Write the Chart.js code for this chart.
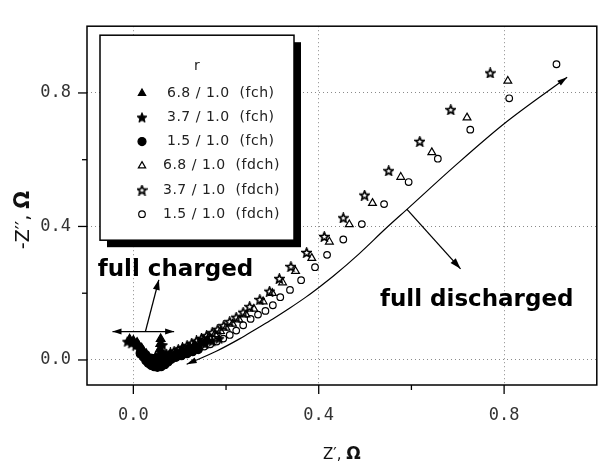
<!DOCTYPE html>
<html>
<head>
<meta charset="utf-8">
<script src="https://cdn.jsdelivr.net/npm/chart.js@4.4.1/dist/chart.umd.min.js"></script>
<style>
  html, body { margin: 0; padding: 0; background: #fff; }
  #wrap { width: 603px; height: 473px; position: relative; }
</style>
</head>
<body>
<div id="wrap"><canvas id="nyquist"></canvas></div>
<script>
// ticks
const xTicks = [0, 0.2, 0.4, 0.6, 0.8];
const yTicks = [0, 0.2, 0.4, 0.6, 0.8];
const majorTicks = [0, 0.4, 0.8];

// legend labels
const legendTitle = 'r';
const seriesLabels = [
  '6.8 / 1.0  (fch)', '3.7 / 1.0  (fch)', '1.5 / 1.0  (fch)',
  '6.8 / 1.0  (fdch)', '3.7 / 1.0  (fdch)', '1.5 / 1.0  (fdch)'
];

// full charged (fch) -- Z', -Z''
const fch68X = [-0.008, 0.000, 0.008, 0.012, 0.018, 0.022, 0.028, 0.033, 0.038, 0.043, 0.050, 0.057, 0.064, 0.056, 0.057, 0.058, 0.059, 0.048, 0.070, 0.080, 0.092, 0.105, 0.118, 0.132, 0.146, 0.160];
const fch68Y = [0.062, 0.058, 0.052, 0.042, 0.035, 0.026, 0.018, 0.010, 0.002, -0.006, -0.010, -0.006, -0.002, 0.015, 0.032, 0.048, 0.063, 0.008, 0.010, 0.016, 0.022, 0.029, 0.036, 0.044, 0.052, 0.060];
const fch37X = [-0.013, -0.004, 0.005, 0.012, 0.018, 0.025, 0.030, 0.036, 0.042, 0.050, 0.058, 0.066, 0.062, 0.063, 0.045, 0.074, 0.085, 0.098, 0.112, 0.126, 0.140, 0.155, 0.170, 0.185];
const fch37Y = [0.055, 0.050, 0.043, 0.034, 0.024, 0.015, 0.004, -0.006, -0.014, -0.017, -0.014, -0.008, 0.025, 0.045, 0.002, 0.004, 0.012, 0.018, 0.025, 0.032, 0.040, 0.048, 0.056, 0.064];
const fch15X = [0.015, 0.022, 0.027, 0.032, 0.038, 0.045, 0.052, 0.060, 0.068, 0.075, 0.082, 0.040, 0.050, 0.092, 0.104, 0.116, 0.128, 0.140];
const fch15Y = [0.018, 0.008, -0.002, -0.010, -0.016, -0.020, -0.022, -0.020, -0.014, -0.006, 0.002, 0.005, 0.000, 0.008, 0.013, 0.019, 0.025, 0.031];

// full discharged (fdch)
const fdch68X = [0.808, 0.720, 0.644, 0.577, 0.516, 0.466, 0.423, 0.385, 0.350, 0.322, 0.300, 0.280, 0.260, 0.243, 0.228, 0.214, 0.200, 0.188, 0.176, 0.164, 0.153, 0.142, 0.132, 0.122, 0.112, 0.102, 0.093, 0.084, 0.076, 0.068];
const fdch68Y = [0.836, 0.726, 0.622, 0.548, 0.470, 0.406, 0.354, 0.305, 0.266, 0.232, 0.200, 0.175, 0.153, 0.136, 0.121, 0.108, 0.096, 0.086, 0.077, 0.068, 0.060, 0.052, 0.045, 0.039, 0.033, 0.027, 0.022, 0.017, 0.013, 0.009];
const fdch37X = [0.770, 0.685, 0.618, 0.551, 0.499, 0.453, 0.412, 0.374, 0.340, 0.315, 0.294, 0.273, 0.251, 0.237, 0.222, 0.208, 0.195, 0.182, 0.170, 0.158, 0.147, 0.136, 0.126, 0.116, 0.106, 0.097, 0.088, 0.080, 0.072, 0.065];
const fdch37Y = [0.860, 0.750, 0.655, 0.567, 0.494, 0.426, 0.370, 0.322, 0.280, 0.244, 0.206, 0.181, 0.160, 0.143, 0.128, 0.115, 0.103, 0.092, 0.082, 0.073, 0.065, 0.057, 0.050, 0.043, 0.037, 0.031, 0.026, 0.021, 0.016, 0.012];
const fdch15X = [0.913, 0.811, 0.727, 0.657, 0.594, 0.541, 0.493, 0.453, 0.418, 0.392, 0.362, 0.338, 0.317, 0.301, 0.285, 0.269, 0.253, 0.237, 0.222, 0.208, 0.194, 0.180, 0.166, 0.153, 0.141, 0.129, 0.118, 0.107, 0.097, 0.088, 0.079];
const fdch15Y = [0.886, 0.784, 0.690, 0.603, 0.533, 0.467, 0.407, 0.361, 0.315, 0.278, 0.239, 0.210, 0.188, 0.164, 0.147, 0.136, 0.123, 0.104, 0.088, 0.075, 0.064, 0.055, 0.047, 0.040, 0.033, 0.027, 0.021, 0.016, 0.011, 0.007, 0.003];

// guide curve (charge / discharge direction)
const guideX = [0.115, 0.180, 0.230, 0.265, 0.301, 0.337, 0.373, 0.401, 0.433, 0.487, 0.544, 0.591, 0.695, 0.802, 0.936];
const guideY = [-0.013, 0.027, 0.064, 0.093, 0.123, 0.155, 0.189, 0.218, 0.253, 0.318, 0.393, 0.452, 0.583, 0.710, 0.847];

// annotation arrows [x1, y1, x2, y2] in data units
const chargedBar = [-0.045, 0.085, 0.088, 0.085];
const chargedPointer = [0.026, 0.085, 0.055, 0.240];
const dischargedPointer = [0.590, 0.452, 0.706, 0.273];
const chargedText = 'full charged';
const chargedAt = [-0.077, 0.253];
const dischargedText = 'full discharged';
const dischargedAt = [0.532, 0.163];

function zip(xs, ys) { return xs.map((x, i) => ({ x: x, y: ys[i] })); }

// five point star sprite for pointStyle
function makeStar(size, filled, lw) {
  const c = document.createElement('canvas');
  c.width = size; c.height = size;
  const g = c.getContext('2d');
  const cx = size / 2, cy = size / 2 + 0.5, ro = size / 2 - 0.8, ri = ro * 0.45;
  g.beginPath();
  for (let i = 0; i < 10; i++) {
    const r = i % 2 ? ri : ro;
    const a = -Math.PI / 2 + i * Math.PI / 5;
    g.lineTo(cx + r * Math.cos(a), cy + r * Math.sin(a));
  }
  g.closePath();
  if (filled) { g.fillStyle = '#000'; g.fill(); }
  g.strokeStyle = '#000'; g.lineWidth = lw; g.stroke();
  return c;
}
const starFilled = makeStar(12, true, 1);
const starOpen = makeStar(11, false, 1.7);

const black = '#000';
const hollow = 'rgba(0,0,0,0)';

function series(label, xs, ys, style, radius, fill) {
  return {
    label: label, data: zip(xs, ys), showLine: false,
    pointStyle: style, pointRadius: radius, pointBorderWidth: 1.2,
    pointBackgroundColor: fill, pointBorderColor: black
  };
}

const datasets = [
  series(seriesLabels[3], fdch68X, fdch68Y, 'triangle', 4.5, hollow),
  series(seriesLabels[4], fdch37X, fdch37Y, starOpen, 5, hollow),
  series(seriesLabels[5], fdch15X, fdch15Y, 'circle', 3.3, hollow),
  series(seriesLabels[0], fch68X, fch68Y, 'triangle', 5, black),
  series(seriesLabels[1], fch37X, fch37Y, starFilled, 5, black),
  series(seriesLabels[2], fch15X, fch15Y, 'circle', 4, black),
  {
    label: 'guide', data: zip(guideX, guideY), showLine: true,
    borderColor: black, borderWidth: 1.2, pointRadius: 0, cubicInterpolationMode: 'monotone'
  }
];
// legend order
const legendOrder = [3, 4, 5, 0, 1, 2];

function arrowHead(ctx, x1, y1, x2, y2, len, half) {
  const a = Math.atan2(y2 - y1, x2 - x1);
  ctx.beginPath();
  ctx.moveTo(x2, y2);
  ctx.lineTo(x2 - len * Math.cos(a) + half * Math.sin(a), y2 - len * Math.sin(a) - half * Math.cos(a));
  ctx.lineTo(x2 - len * Math.cos(a) - half * Math.sin(a), y2 - len * Math.sin(a) + half * Math.cos(a));
  ctx.closePath();
  ctx.fill();
}

const decorations = {
  id: 'decorations',
  afterDatasetsDraw(chart) {
    const ctx = chart.ctx;
    const a = chart.chartArea;
    const xs = chart.scales.x, ys = chart.scales.y;
    const px = v => xs.getPixelForValue(v), py = v => ys.getPixelForValue(v);
    ctx.save();
    ctx.fillStyle = black; ctx.strokeStyle = black;

    // frame
    ctx.lineWidth = 1.5;
    ctx.strokeRect(a.left, a.top, a.right - a.left, a.bottom - a.top);

    // ticks, major long and minor short, outward
    ctx.lineWidth = 1.3;
    xTicks.forEach(v => {
      const len = majorTicks.includes(v) ? 9 : 5;
      ctx.beginPath(); ctx.moveTo(px(v), a.bottom); ctx.lineTo(px(v), a.bottom + len); ctx.stroke();
    });
    yTicks.forEach(v => {
      const len = majorTicks.includes(v) ? 9 : 5;
      ctx.beginPath(); ctx.moveTo(a.left, py(v)); ctx.lineTo(a.left - len, py(v)); ctx.stroke();
    });

    // guide curve arrowheads at both ends
    const n = guideX.length;
    arrowHead(ctx, px(guideX[n - 2]), py(guideY[n - 2]), px(guideX[n - 1]), py(guideY[n - 1]), 10, 3);
    arrowHead(ctx, px(guideX[1]), py(guideY[1]), px(guideX[0]), py(guideY[0]), 10, 3);

    // annotation arrows
    ctx.lineWidth = 1.3;
    const line = (s) => {
      ctx.beginPath(); ctx.moveTo(px(s[0]), py(s[1])); ctx.lineTo(px(s[2]), py(s[3])); ctx.stroke();
    };
    line(chargedBar);
    arrowHead(ctx, px(chargedBar[0]), py(chargedBar[1]), px(chargedBar[2]), py(chargedBar[3]), 9, 3);
    arrowHead(ctx, px(chargedBar[2]), py(chargedBar[3]), px(chargedBar[0]), py(chargedBar[1]), 9, 3);
    line(chargedPointer);
    arrowHead(ctx, px(chargedPointer[0]), py(chargedPointer[1]), px(chargedPointer[2]), py(chargedPointer[3]), 10, 3.5);
    line(dischargedPointer);
    arrowHead(ctx, px(dischargedPointer[0]), py(dischargedPointer[1]), px(dischargedPointer[2]), py(dischargedPointer[3]), 11, 3.5);

    // annotation text
    ctx.font = 'bold 23px "DejaVu Sans"';
    ctx.textBaseline = 'alphabetic'; ctx.textAlign = 'left';
    ctx.fillText(chargedText, px(chargedAt[0]), py(chargedAt[1]));
    ctx.fillText(dischargedText, px(dischargedAt[0]), py(dischargedAt[1]));

    // legend box with drop shadow
    const bx = a.left + 13, by = a.top + 9, bw = 194, bh = 205;
    ctx.fillRect(bx + 7, by + 7, bw, bh);
    ctx.fillStyle = '#fff';
    ctx.fillRect(bx, by, bw, bh);
    ctx.lineWidth = 1.5; ctx.strokeRect(bx, by, bw, bh);
    ctx.fillStyle = '#222';
    ctx.font = '14px "DejaVu Sans"';
    ctx.textAlign = 'center'; ctx.textBaseline = 'middle';
    ctx.fillText(legendTitle, bx + 97, by + 31);
    ctx.textAlign = 'left';
    ctx.letterSpacing = '0.5px';
    legendOrder.forEach((di, row) => {
      const ds = chart.data.datasets[di];
      const yy = by + 58 + row * 24.2;
      ctx.fillStyle = ds.pointBackgroundColor; ctx.strokeStyle = black; ctx.lineWidth = 1.2;
      Chart.helpers.drawPoint(ctx, { pointStyle: ds.pointStyle, radius: Math.min(ds.pointRadius, 4.2), borderWidth: 1.2, rotation: 0 }, bx + 42, yy);
      ctx.fillStyle = '#222';
      ctx.fillText(ds.label, bx + (row < 3 ? 67 : 63), yy);
    });
    ctx.letterSpacing = '0px';

    // axis titles, the unit drawn bold
    ctx.fillStyle = '#111';
    ctx.textBaseline = 'alphabetic';
    const title = (main, mainFont, unit, unitFont) => {
      ctx.font = mainFont; const w1 = ctx.measureText(main).width;
      ctx.font = unitFont; const w2 = ctx.measureText(unit).width;
      const start = -(w1 + w2) / 2;
      ctx.font = mainFont; ctx.fillText(main, start, 0);
      ctx.font = unitFont; ctx.fillText(unit, start + w1, 0);
    };
    ctx.save();
    ctx.translate((a.left + a.right) / 2, 459);
    title('Z\u2032, ', '15px "DejaVu Sans"', '\u03A9', 'bold 17px "DejaVu Sans"');
    ctx.restore();
    ctx.save();
    ctx.translate(29, 220);
    ctx.rotate(-Math.PI / 2);
    title('-Z\u2032\u2032, ', '19px "DejaVu Sans"', '\u03A9', 'bold 21px "DejaVu Sans"');
    ctx.restore();

    ctx.restore();
  }
};

const tickFont = { family: '"DejaVu Sans Mono"', size: 17 };
const gridColor = c => (c.tick && majorTicks.includes(c.tick.value)) ? '#8a8a8a' : 'rgba(0,0,0,0)';
const tickLabel = v => majorTicks.includes(v) ? v.toFixed(1) : '';

new Chart(document.getElementById('nyquist'), {
  type: 'scatter',
  data: { datasets: datasets },
  options: {
    responsive: true,
    maintainAspectRatio: false,
    animation: false,
    layout: { padding: { top: 15, right: 3, left: 0, bottom: 0 } },
    plugins: { legend: { display: false }, tooltip: { enabled: false } },
    scales: {
      x: {
        type: 'linear', min: -0.1, max: 1.0,
        afterBuildTicks: s => { s.ticks = xTicks.map(v => ({ value: v })); },
        afterFit: s => { s.height = 88; },
        ticks: { callback: tickLabel, font: tickFont, color: '#333', padding: 20, maxRotation: 0, autoSkip: false },
        grid: { color: gridColor, lineWidth: 1, drawTicks: false },
        border: { display: false, dash: [1, 3] }
      },
      y: {
        type: 'linear', min: -0.075, max: 1.0,
        afterBuildTicks: s => { s.ticks = yTicks.map(v => ({ value: v })); },
        afterFit: s => { s.width = 87; },
        ticks: { callback: tickLabel, font: tickFont, color: '#333', padding: 16, autoSkip: false },
        grid: { color: gridColor, lineWidth: 1, drawTicks: false },
        border: { display: false, dash: [1, 3] }
      }
    }
  },
  plugins: [decorations]
});
</script>
</body>
</html>
